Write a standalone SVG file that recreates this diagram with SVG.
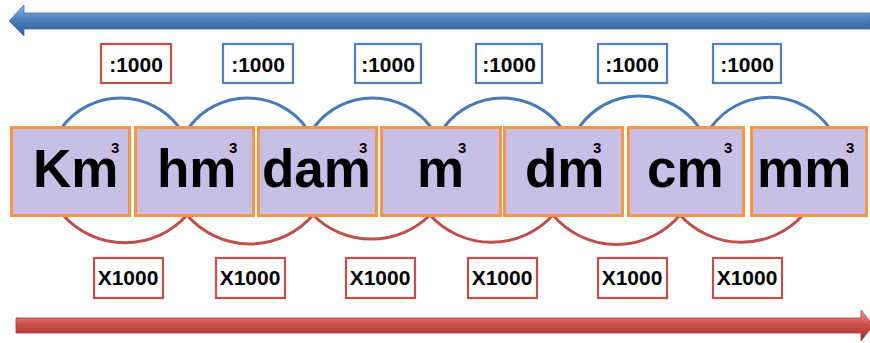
<svg xmlns="http://www.w3.org/2000/svg" width="870" height="343" viewBox="0 0 870 343">
  <defs>
    <linearGradient id="gBlue" x1="0" y1="0" x2="0" y2="1">
      <stop offset="0" stop-color="#8fb4e0"/>
      <stop offset="0.45" stop-color="#4f81bd"/>
      <stop offset="1" stop-color="#2c5a93"/>
    </linearGradient>
    <linearGradient id="gRed" x1="0" y1="0" x2="0" y2="1">
      <stop offset="0" stop-color="#ee9a97"/>
      <stop offset="0.45" stop-color="#d0504c"/>
      <stop offset="1" stop-color="#9c2f2c"/>
    </linearGradient>
    <style>
      .unit rect { fill: #c8bfe6; stroke: #f79646; stroke-width: 3; }
      .unit text { font-family: "Liberation Sans", Arial, sans-serif; font-weight: bold; fill: #000; font-size: 53px; }
      .unit .e { font-size: 15px; }
      .op rect { fill: #fff; stroke-width: 2.2; }
      .op text { font-family: "Liberation Sans", Arial, sans-serif; font-weight: bold; font-size: 21px; text-anchor: middle; fill: #000; }
      .div rect { stroke: #4f81bd; }
      .div.first rect { stroke: #c0504d; }
      .mul rect { stroke: #c0504d; }
      .arcs path { fill: none; stroke-width: 3; stroke-linecap: round; }
      .arcs .up { stroke: #4a7ab5; }
      .arcs .down { stroke: #bd4f4c; }
    </style>
  </defs>

  <rect width="870" height="343" fill="#fff"/>

  <!-- direction arrows -->
  <path id="arrow-left" d="M9,21 L24,5 L24,13 L870,13 L870,29 L24,29 L24,36 Z" fill="url(#gBlue)" stroke="#3f6ea8" stroke-width="0.8"/>
  <path id="arrow-right" d="M16,318 L861,318 L861,310 L873,325.5 L861,341 L861,333 L16,333 Z" fill="url(#gRed)" stroke="#a83a37" stroke-width="0.8"/>

  <!-- connectors: arcs between neighbouring units -->
  <g id="connectors" class="arcs">
    <path class="up" d="M63,126 A73,73 0 0 1 178,126"/>
    <path class="up" d="M190,126 A73,73 0 0 1 305,126"/>
    <path class="up" d="M315,126 A73,73 0 0 1 430,126"/>
    <path class="up" d="M445,126 A73,73 0 0 1 560,126"/>
    <path class="up" d="M580,126 A73,73 0 0 1 698,126"/>
    <path class="up" d="M712,126 A73,73 0 0 1 828,126"/>
    <path class="down" d="M63,215 A83,83 0 0 0 187,215"/>
    <path class="down" d="M187,215 A83,83 0 0 0 313,215"/>
    <path class="down" d="M313,215 A83,83 0 0 0 430,215"/>
    <path class="down" d="M430,215 A83,83 0 0 0 553,215"/>
    <path class="down" d="M553,215 A83,83 0 0 0 680,215"/>
    <path class="down" d="M680,215 A83,83 0 0 0 803,215"/>
  </g>

  <!-- units (the cube exponent is a tspan placed over the end of the word) -->
  <g id="km3" class="unit">
    <rect x="11.5" y="127.5" width="118" height="88"/>
    <text x="33" y="187">Km<tspan class="e" x="111" y="153">3</tspan></text>
  </g>
  <g id="hm3" class="unit">
    <rect x="135.5" y="127.5" width="118" height="88"/>
    <text x="157" y="187">hm<tspan class="e" x="229" y="153">3</tspan></text>
  </g>
  <g id="dam3" class="unit">
    <rect x="258.5" y="127.5" width="118" height="88"/>
    <text x="262" y="187">dam<tspan class="e" x="359" y="153">3</tspan></text>
  </g>
  <g id="m3" class="unit">
    <rect x="381.5" y="127.5" width="119" height="88"/>
    <text x="417" y="187">m<tspan class="e" x="458" y="153">3</tspan></text>
  </g>
  <g id="dm3" class="unit">
    <rect x="504.5" y="127.5" width="118" height="88"/>
    <text x="525" y="187">dm<tspan class="e" x="593" y="153">3</tspan></text>
  </g>
  <g id="cm3" class="unit">
    <rect x="628.5" y="127.5" width="115" height="88"/>
    <text x="647" y="187">cm<tspan class="e" x="724" y="153">3</tspan></text>
  </g>
  <g id="mm3" class="unit">
    <rect x="751.5" y="127.5" width="115" height="88"/>
    <text x="757" y="187">mm<tspan class="e" x="846" y="153">3</tspan></text>
  </g>

  <!-- divide labels -->
  <g id="div1" class="op div first"><rect x="101" y="44" width="70" height="39"/><text x="136" y="72">:1000</text></g>
  <g id="div2" class="op div"><rect x="223" y="44" width="70" height="39"/><text x="258" y="72">:1000</text></g>
  <g id="div3" class="op div"><rect x="355" y="44" width="66" height="39"/><text x="388" y="72">:1000</text></g>
  <g id="div4" class="op div"><rect x="476" y="44" width="66" height="39"/><text x="509" y="72">:1000</text></g>
  <g id="div5" class="op div"><rect x="598" y="44" width="69" height="39"/><text x="632" y="72">:1000</text></g>
  <g id="div6" class="op div"><rect x="713" y="44" width="68" height="39"/><text x="747" y="72">:1000</text></g>

  <!-- multiply labels -->
  <g id="mul1" class="op mul"><rect x="94" y="258" width="69" height="40"/><text x="128" y="285">X1000</text></g>
  <g id="mul2" class="op mul"><rect x="216" y="258" width="69" height="40"/><text x="250" y="285">X1000</text></g>
  <g id="mul3" class="op mul"><rect x="346" y="258" width="69" height="40"/><text x="380" y="285">X1000</text></g>
  <g id="mul4" class="op mul"><rect x="468" y="258" width="69" height="40"/><text x="502" y="285">X1000</text></g>
  <g id="mul5" class="op mul"><rect x="598" y="258" width="69" height="40"/><text x="632" y="285">X1000</text></g>
  <g id="mul6" class="op mul"><rect x="713" y="258" width="69" height="40"/><text x="747" y="285">X1000</text></g>
</svg>
